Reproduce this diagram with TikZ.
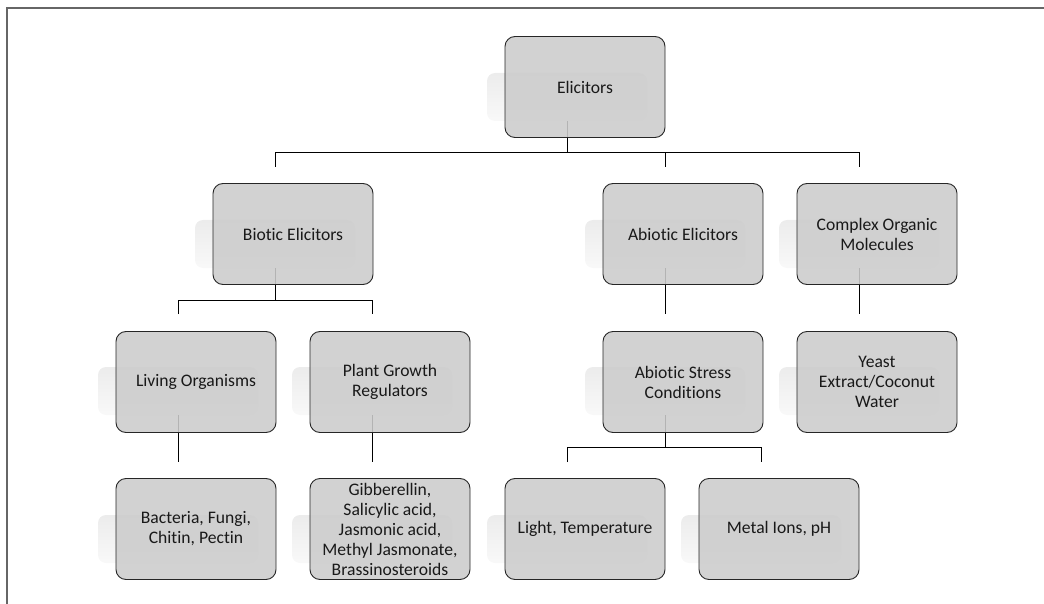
\documentclass[tikz,border=0pt]{standalone}
\usepackage{fontspec}
\setmainfont{Carlito}[Ligatures={NoCommon}]
\usepackage{tikz}
\usetikzlibrary{positioning}
\tikzset{elbox/.style={rectangle, rounded corners=10pt, draw=black!85, line width=.9pt, fill=gray!40, fill opacity=.88, text opacity=1, text=black!90, minimum width=160pt, minimum height=101pt, inner sep=2pt, align=center, font=\fontsize{17.6}{20}\selectfont},
         elshadow/.style={rectangle, rounded corners=8pt, draw=none, top color=gray!15, bottom color=gray!5, minimum width=160pt, minimum height=48pt, inner sep=0pt},
         conn/.style={draw=black, line width=.8pt},
         frame/.style={draw=black!60, line width=2pt}}

\begin{document}
\begin{tikzpicture}[x=1pt, y=-1pt]
                 \useasboundingbox (0,0) rectangle (1044,604);
                 \draw[frame] (6.5,604) -- (6.5,8.5) -- (1044,8.5);

                 \node[elshadow] (s-elic) at (567,97) {};
                 \node[elshadow] (s-bio) at (275,244) {};
                 \node[elshadow] (s-abio) at (665,244) {};
                 \node[elshadow] (s-cplx) at (859,244) {};
                 \node[elshadow] (s-living) at (178,391) {};
                 \node[elshadow] (s-pgr) at (372,391) {};
                 \node[elshadow] (s-stress) at (665,391) {};
                 \node[elshadow] (s-yeast) at (859,391) {};
                 \node[elshadow] (s-bact) at (178,539) {};
                 \node[elshadow] (s-plist) at (372,539) {};
                 \node[elshadow] (s-light) at (567,539) {};
                 \node[elshadow] (s-metal) at (761,539) {};

                 \coordinate (d-bio) at (275,167);
                 \coordinate (d-abio) at (665,167);
                 \coordinate (d-cplx) at (859,167);
                 \coordinate (d-living) at (178,314);
                 \coordinate (d-pgr) at (372,314);
                 \coordinate (d-stress) at (665,314);
                 \coordinate (d-yeast) at (859,314);
                 \coordinate (d-bact) at (178,462);
                 \coordinate (d-plist) at (372,462);
                 \coordinate (d-light) at (567,462);
                 \coordinate (d-metal) at (761,462);

                 \draw[conn] (s-elic.south) -- (s-elic.south |- 0,152);
                 \draw[conn] (d-bio) -- ++(0,-15) -| (d-cplx);
                 \draw[conn] (d-abio) -- ++(0,-15);

                 \draw[conn] (s-bio.south) -- (s-bio.south |- 0,300);
                 \draw[conn] (d-living) -- ++(0,-14) -| (d-pgr);
                 \draw[conn] (s-abio.south) -- (d-stress);
                 \draw[conn] (s-cplx.south) -- (d-yeast);

                 \draw[conn] (s-living.south) -- (d-bact);
                 \draw[conn] (s-pgr.south) -- (d-plist);
                 \draw[conn] (s-stress.south) -- (s-stress.south |- 0,447);
                 \draw[conn] (d-light) -- ++(0,-15) -| (d-metal);

                 \node[elbox] (elic) at (585,87) {Elicitors};
                 \node[elbox] (bio) at (293,234) {Biotic Elicitors};
                 \node[elbox] (abio) at (683,234) {Abiotic Elicitors};
                 \node[elbox] (cplx) at (877,234) {Complex Organic\\Molecules};
                 \node[elbox] (living) at (196,382) {Living Organisms};
                 \node[elbox] (pgr) at (390,382) {Plant Growth\\Regulators};
                 \node[elbox] (stress) at (683,382) {Abiotic Stress\\Conditions};
                 \node[elbox] (yeast) at (877,382) {Yeast\\Extract/Coconut\\Water};
                 \node[elbox] (bact) at (196,529) {Bacteria, Fungi,\\Chitin, Pectin};
                 \node[elbox] (plist) at (390,529) {Gibberellin,\\Salicylic acid,\\Jasmonic acid,\\Methyl Jasmonate,\\Brassinosteroids};
                 \node[elbox] (light) at (585,529) {Light, Temperature};
                 \node[elbox] (metal) at (779,529) {Metal Ions, pH};
\end{tikzpicture}
\end{document}
